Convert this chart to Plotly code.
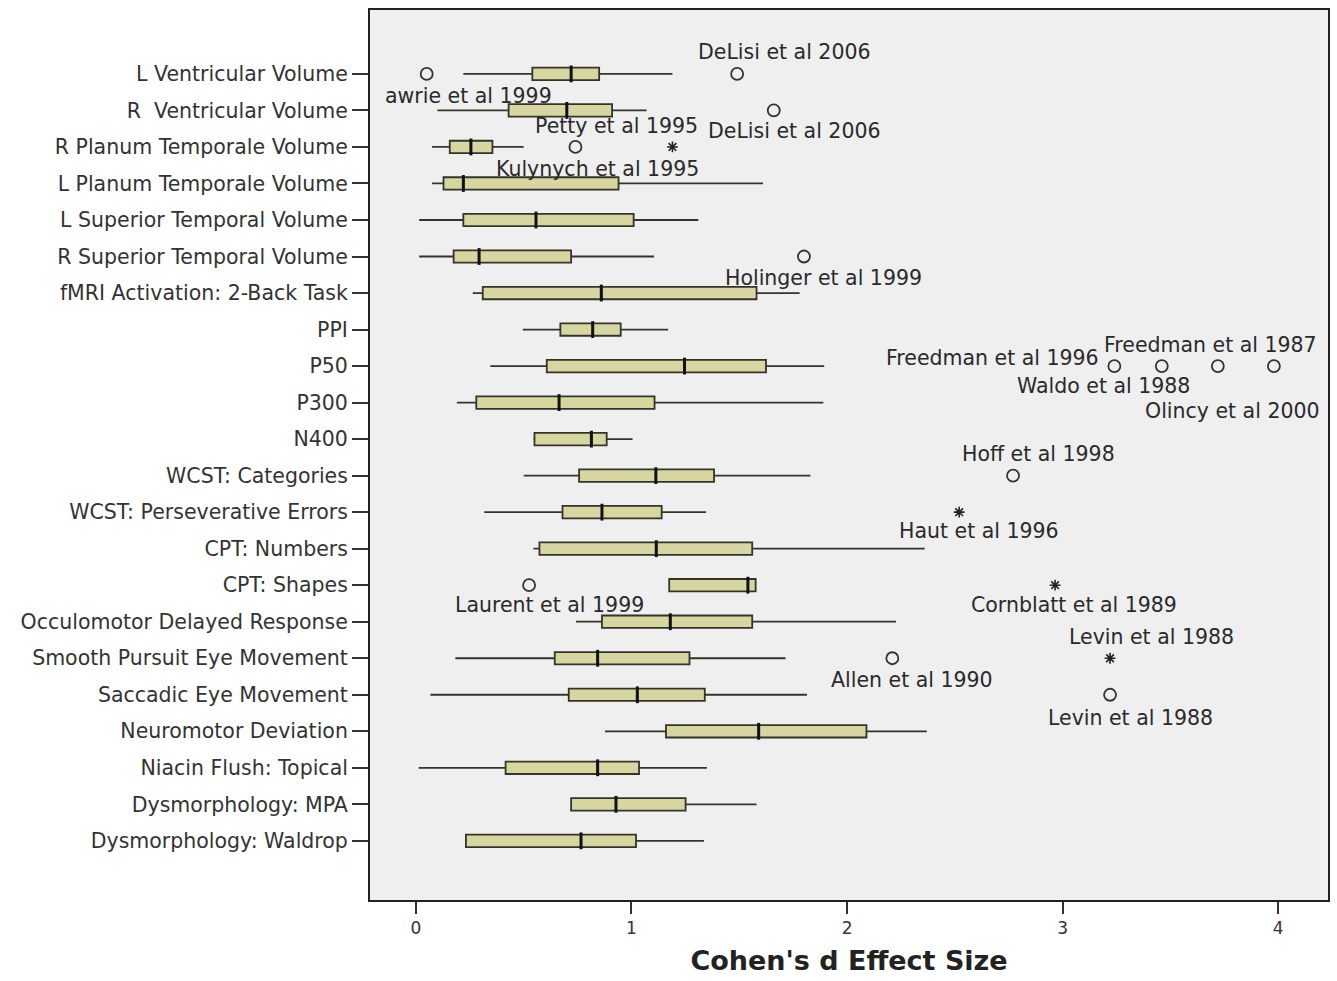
import plotly.graph_objects as go

categories = [
    "L Ventricular Volume", "R  Ventricular Volume", "R Planum Temporale Volume",
    "L Planum Temporale Volume", "L Superior Temporal Volume", "R Superior Temporal Volume",
    "fMRI Activation: 2-Back Task", "PPI", "P50", "P300", "N400", "WCST: Categories",
    "WCST: Perseverative Errors", "CPT: Numbers", "CPT: Shapes",
    "Occulomotor Delayed Response", "Smooth Pursuit Eye Movement", "Saccadic Eye Movement",
    "Neuromotor Deviation", "Niacin Flush: Topical", "Dysmorphology: MPA",
    "Dysmorphology: Waldrop",
]
lower = [0.22, 0.10, 0.075, 0.075, 0.015, 0.015, 0.264, 0.496, 0.345, 0.19, 0.545, 0.50,
         0.317, 0.545, 1.175, 0.743, 0.183, 0.067, 0.877, 0.013, 0.72, 0.232]
q1 = [0.54, 0.43, 0.157, 0.128, 0.22, 0.175, 0.31, 0.67, 0.607, 0.28, 0.55, 0.757,
      0.68, 0.573, 1.175, 0.863, 0.644, 0.709, 1.16, 0.416, 0.72, 0.232]
median = [0.72, 0.70, 0.255, 0.22, 0.557, 0.293, 0.86, 0.82, 1.246, 0.664, 0.814, 1.113,
          0.863, 1.115, 1.54, 1.18, 0.843, 1.027, 1.59, 0.843, 0.928, 0.766]
q3 = [0.85, 0.91, 0.355, 0.94, 1.01, 0.72, 1.58, 0.95, 1.624, 1.107, 0.885, 1.383,
      1.14, 1.56, 1.576, 1.56, 1.269, 1.34, 2.09, 1.035, 1.251, 1.021]
upper = [1.19, 1.07, 0.50, 1.61, 1.31, 1.105, 1.78, 1.17, 1.894, 1.89, 1.005, 1.83,
         1.346, 2.36, 1.576, 2.227, 1.715, 1.814, 2.37, 1.35, 1.58, 1.336]

# outliers (circle) and extremes (star)
circ_cat = ["L Ventricular Volume", "L Ventricular Volume", "R  Ventricular Volume",
            "R Planum Temporale Volume", "R Superior Temporal Volume",
            "P50", "P50", "P50", "P50", "WCST: Categories", "CPT: Shapes",
            "Smooth Pursuit Eye Movement", "Saccadic Eye Movement"]
circ_val = [0.05, 1.49, 1.66, 0.74, 1.80, 3.24, 3.46, 3.72, 3.98, 2.77, 0.525, 2.21, 3.22]
star_cat = ["R Planum Temporale Volume", "WCST: Perseverative Errors", "CPT: Shapes",
            "Smooth Pursuit Eye Movement"]
star_val = [1.19, 2.52, 2.965, 3.22]

# outlier labels: text, x, category, vertical shift (px), anchor
lab_text = ["DeLisi et al 2006", "awrie et al 1999", "DeLisi et al 2006", "Petty et al 1995",
            "Kulynych et al 1995", "Holinger et al 1999", "Freedman et al 1987",
            "Freedman et al 1996", "Waldo et al 1988", "Olincy et al 2000", "Hoff et al 1998",
            "Haut et al 1996", "Laurent et al 1999", "Cornblatt et al 1989", "Levin et al 1988",
            "Allen et al 1990", "Levin et al 1988"]
lab_x = [1.71, -0.153, 1.755, 0.93, 0.84, 1.89, 3.685, 3.176, 3.19, 3.79, 2.89, 2.61,
         0.62, 3.055, 3.41, 2.30, 3.315]
lab_cat = ["L Ventricular Volume", "L Ventricular Volume", "R  Ventricular Volume",
           "R Planum Temporale Volume", "R Planum Temporale Volume",
           "R Superior Temporal Volume", "P50", "P50", "P50", "P50", "WCST: Categories",
           "WCST: Perseverative Errors", "CPT: Shapes", "CPT: Shapes",
           "Smooth Pursuit Eye Movement", "Smooth Pursuit Eye Movement",
           "Saccadic Eye Movement"]
lab_dy = [22, -22, -21, 21, -22, -21, 21, 8, -20, -45, 22, -19, -20, -20, 21, -22, -23]
lab_anchor = ["center", "left", "center", "center", "center", "center", "center", "right",
              "center", "center", "center", "center", "center", "center", "center",
              "center", "center"]

FONT = "DejaVu Sans, Verdana, sans-serif"
fig = go.Figure()
fig.add_trace(go.Box(
    y=categories, q1=q1, median=median, q3=q3, lowerfence=lower, upperfence=upper,
    orientation="h", boxpoints=False, width=0.34, whiskerwidth=0,
    fillcolor="#d7d6a0", line=dict(color="#34342a", width=1.8), showlegend=False,
    hoverinfo="skip",
))
fig.add_trace(go.Scatter(
    x=median, y=categories, mode="markers", showlegend=False, hoverinfo="skip",
    marker=dict(symbol="line-ns", size=12, line=dict(color="#111111", width=3)),
))
fig.add_trace(go.Scatter(
    x=circ_val, y=circ_cat, mode="markers", showlegend=False,
    marker=dict(symbol="circle-open", size=12, color="#333333", line=dict(width=1.8)),
))
fig.add_trace(go.Scatter(
    x=star_val, y=star_cat, mode="markers", showlegend=False,
    marker=dict(symbol="asterisk-open", size=9, color="#222222", line=dict(width=1.6)),
))

for t, x, c, dy, a in zip(lab_text, lab_x, lab_cat, lab_dy, lab_anchor):
    fig.add_annotation(x=x, y=c, xref="x", yref="y", text=t, showarrow=False,
                       xanchor=a, yanchor="middle", yshift=dy,
                       font=dict(family=FONT, size=20.5, color="#2a2a2a"))

fig.update_layout(
    width=1337, height=981,
    margin=dict(l=370, r=7, t=10, b=81),
    paper_bgcolor="white", plot_bgcolor="#efefef",
    font=dict(family=FONT, color="#222222"),
)
fig.update_xaxes(
    range=[-0.213, 4.231], tickvals=[0, 1, 2, 3, 4], ticks="outside", ticklen=12,
    tickwidth=1.5, tickcolor="#333333", showgrid=False, zeroline=False,
    showline=True, linecolor="#222222", linewidth=2, mirror=True,
    tickfont=dict(size=17, color="#333333"),
    title=dict(text="<b>Cohen's d Effect Size</b>", font=dict(size=27, color="#222222"),
               standoff=14),
)
fig.update_yaxes(
    type="category", categoryorder="array", categoryarray=categories,
    range=[22.62, -1.75], ticks="outside", ticklen=16, tickwidth=1.5,
    tickcolor="#333333", showgrid=False, zeroline=False,
    showline=True, linecolor="#222222", linewidth=2, mirror=True,
    tickfont=dict(size=20.5, color="#333333"),
)
fig.write_html("out.html", config={"displayModeBar": False},
               post_script="document.body.style.margin='0';")
